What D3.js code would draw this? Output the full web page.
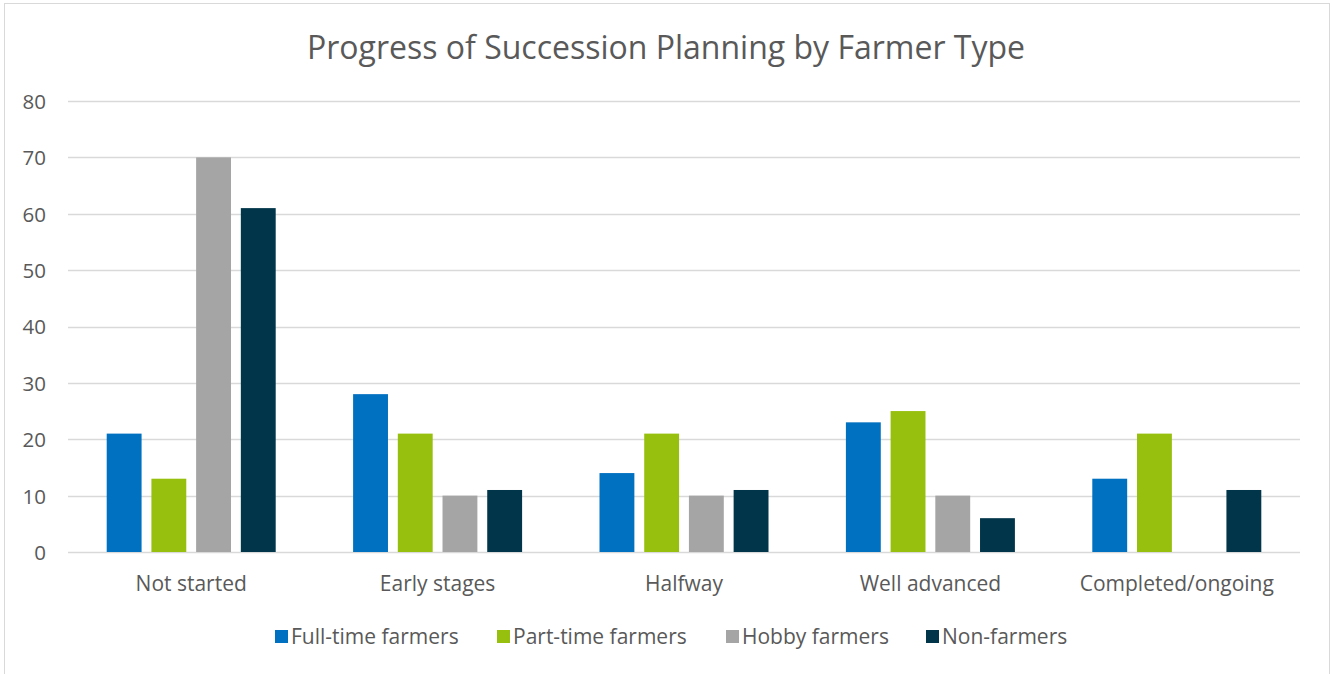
<!DOCTYPE html>
<html><head><meta charset="utf-8">
<script src="https://cdn.jsdelivr.net/npm/d3@7"></script>
<style>body{margin:0;background:#fff}svg{display:block}text{font-family:"Open Sans",sans-serif;fill:#595959}</style>
</head><body><svg id="c" width="1332" height="674"></svg>
<script>
const categories = ["Not started","Early stages","Halfway","Well advanced","Completed/ongoing"];
const seriesNames = ["Full-time farmers","Part-time farmers","Hobby farmers","Non-farmers"];
const fullTime = [21,28,14,23,13];
const partTime = [13,21,21,25,21];
const hobby = [70,10,10,10,0];
const nonFarmers = [61,11,11,6,11];
const yTicks = [0,10,20,30,40,50,60,70,80];
const colors = ["#0070C0","#97C00E","#A5A5A5","#00354A"];
const series = [fullTime, partTime, hobby, nonFarmers];

(function(){
const svg = d3.select("#c");
svg.append("rect").attr("x",4.5).attr("y",3.5).attr("width",1325).attr("height",680).attr("fill","#fff").attr("stroke","#D9D9D9");

const pl=68, pr=1300, pt=101, pb=552;
const x0 = d3.scaleBand().domain(categories).range([pl,pr]).paddingInner(0).paddingOuter(0);
const y = d3.scaleLinear().domain([0,80]).range([pb,pt]);
const groupW = 169;
const x1 = d3.scaleBand().domain(seriesNames).range([0,groupW]).paddingInner(0.22).paddingOuter(0);

const grid = svg.append("g");
grid.selectAll("line").data(yTicks).join("line")
  .attr("x1",pl).attr("x2",pr).attr("y1",d=>Math.round(y(d))+0.5).attr("y2",d=>Math.round(y(d))+0.5)
  .attr("stroke","#D9D9D9").attr("stroke-width",1.5);

const yAxis = d3.axisLeft(y).tickValues(yTicks).tickSize(0).tickPadding(0);
const ya = svg.append("g").attr("transform",`translate(46,0)`).call(yAxis);
ya.select(".domain").remove();
ya.selectAll("text").attr("font-size",20.5).attr("dy","0.36em").style("font-family",'"Open Sans",sans-serif').attr("fill","#595959");

categories.forEach((c,i)=>{
  const g = svg.append("g").attr("transform",`translate(${x0(c)+x0.bandwidth()/2-groupW/2},0)`);
  g.selectAll("rect").data(seriesNames.map((s,j)=>({s,v:series[j][i],j}))).join("rect")
    .attr("x",d=>x1(d.s)).attr("width",x1.bandwidth())
    .attr("y",d=>y(d.v)).attr("height",d=>pb-y(d.v)).attr("fill",d=>colors[d.j]);
});

const xAxis = d3.axisBottom(x0).tickSize(0).tickPadding(0);
const xa = svg.append("g").attr("transform",`translate(0,${pb})`).call(xAxis);
xa.select(".domain").remove();
xa.selectAll("text").attr("font-size",21).attr("y",39).attr("dy",0).style("font-family",'"Open Sans",sans-serif').attr("fill","#595959");

svg.append("text").attr("x",666).attr("y",58.5).attr("text-anchor","middle").attr("font-size",32).text("Progress of Succession Planning by Farmer Type");

const legX = [275,497,726,926];
const leg = svg.append("g");
seriesNames.forEach((s,i)=>{
  leg.append("rect").attr("x",legX[i]).attr("y",630).attr("width",13).attr("height",13).attr("fill",colors[i]);
  leg.append("text").attr("x",legX[i]+16).attr("y",644).attr("font-size",21).text(s);
});
})();
</script></body></html>
